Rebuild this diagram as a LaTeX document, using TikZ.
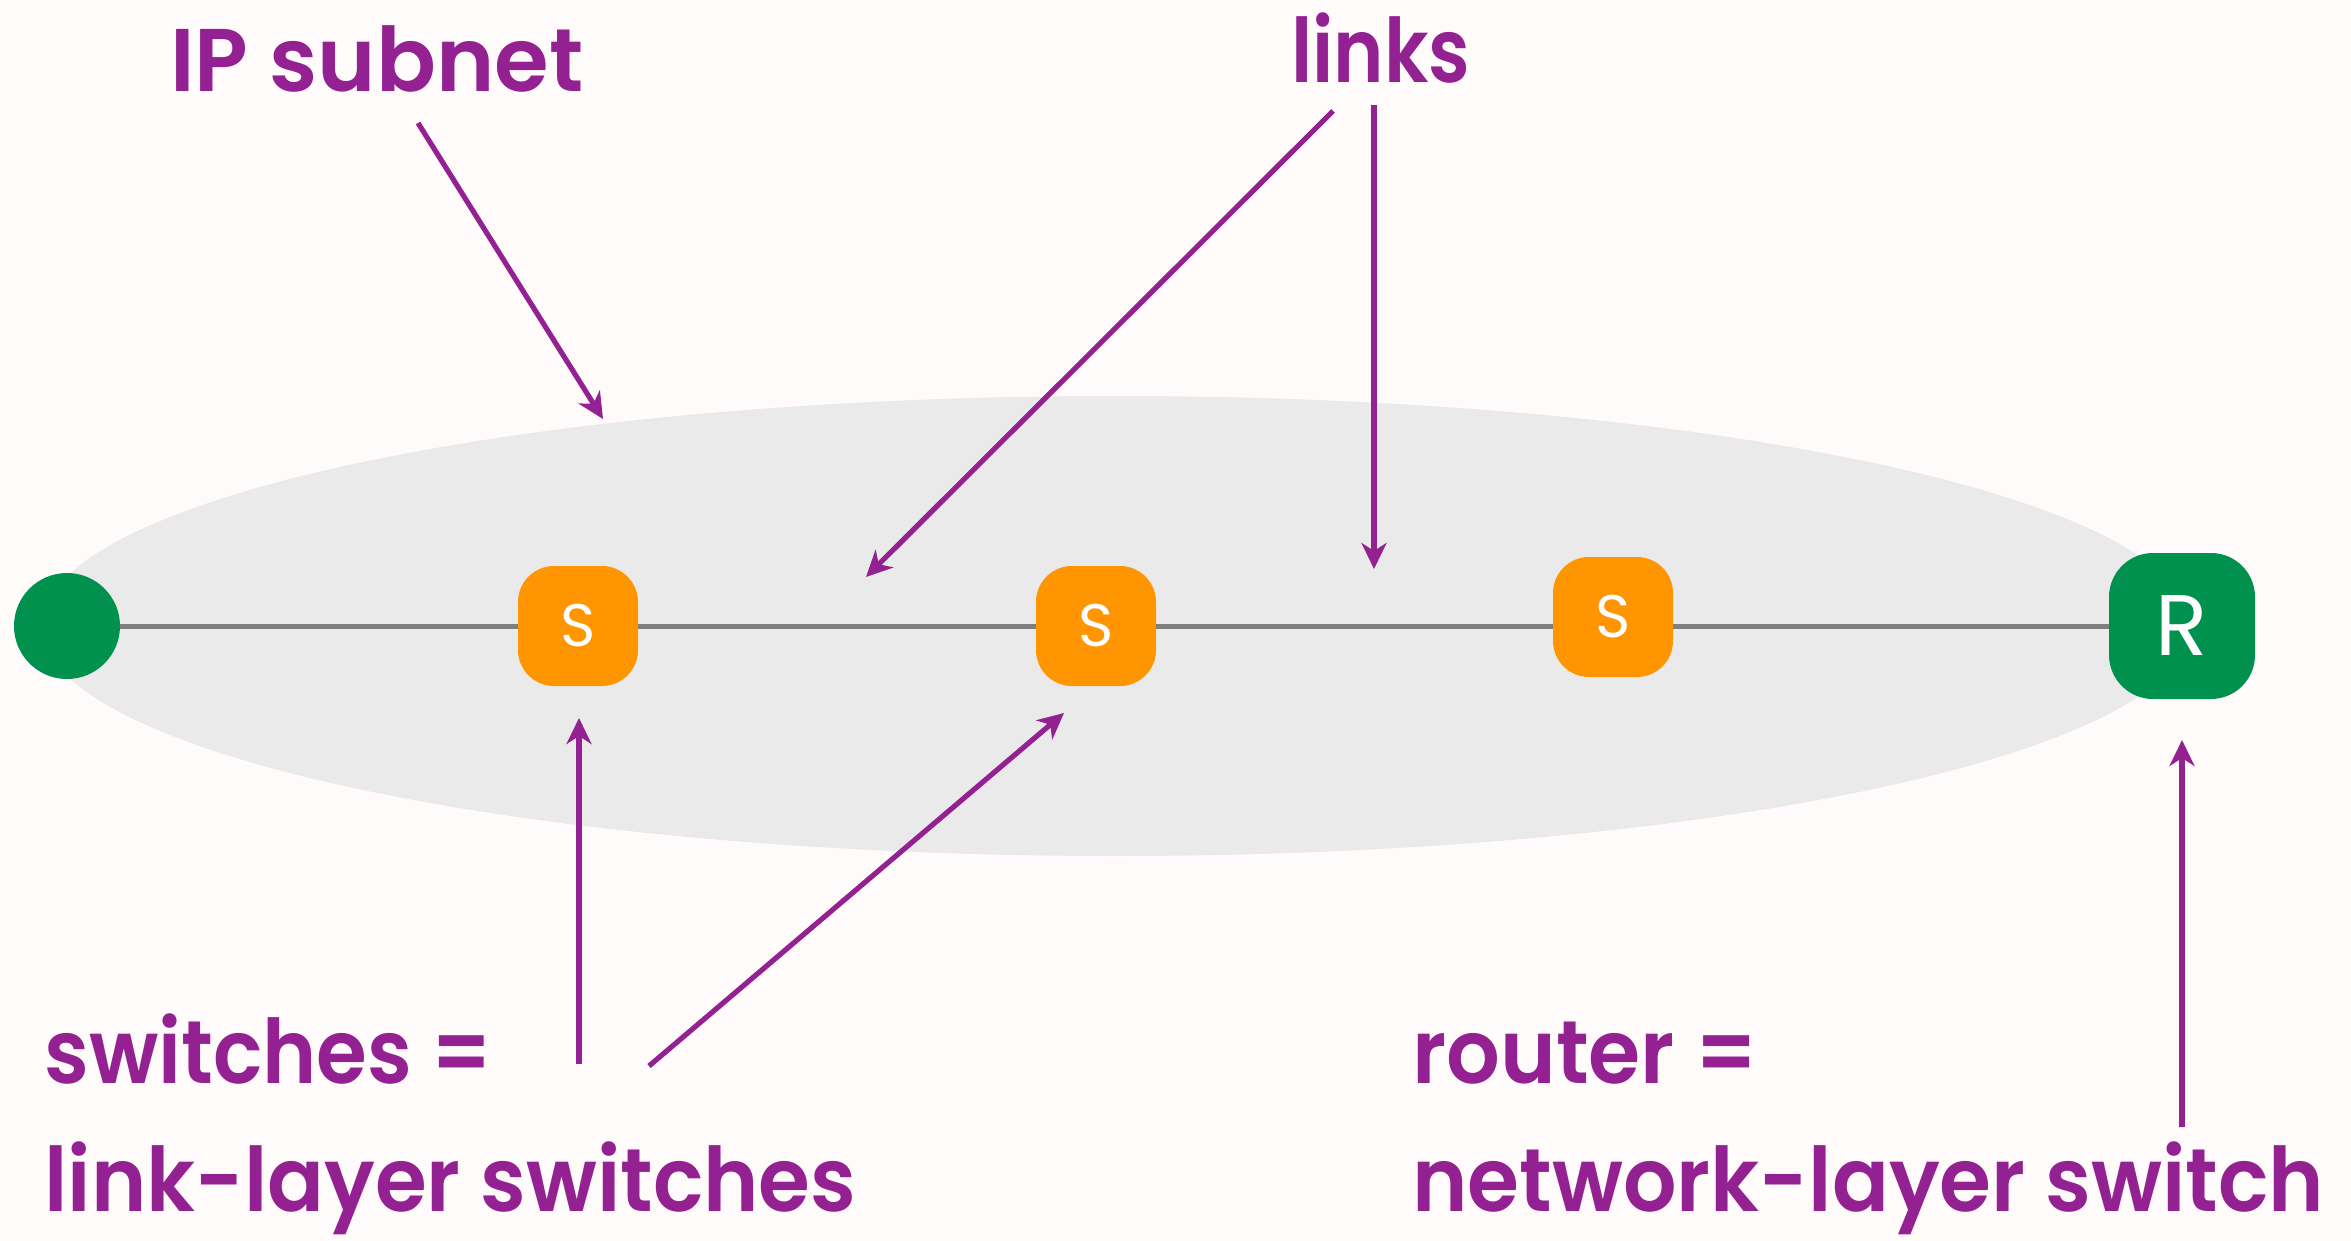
\documentclass[tikz,border=0pt]{standalone}
\usepackage{fontspec}
\usepackage{graphicx}
\setmainfont{Poppins}
\newfontfamily\lblfont{Poppins}[UprightFont={* SemiBold}]
\usetikzlibrary{arrows.meta}
\definecolor{bg}{HTML}{FFFBFA}
\definecolor{ellfill}{HTML}{EAEAEA}
\definecolor{rgreen}{HTML}{00914F}
\definecolor{swor}{HTML}{FF9500}
\definecolor{plum}{HTML}{942192}
\definecolor{wiregray}{HTML}{7F7F7F}
\newcommand\fitw[2]{\resizebox{#1}{\height}{#2}}
\tikzset{
  lbl/.style={anchor=base west, inner sep=0pt, text=plum, font=\lblfont\fontsize{44.5}{50}\selectfont},
  ann/.style={draw=plum, line width=2.6pt, -{Stealth[length=13pt,width=12.5pt,inset=4pt]}},
  swbox/.style={fill=swor, rounded corners=18pt, minimum size=60pt, inner sep=0pt, text=white, font=\fontsize{30}{30}\selectfont},
  rbox/.style={fill=rgreen, rounded corners=22pt, minimum size=73pt, inner sep=0pt, text=white, font=\fontsize{43}{43}\selectfont},
  hostdot/.style={circle, fill=rgreen, minimum size=53pt, inner sep=0pt},
  wire/.style={draw=wiregray, line width=2.5pt},
}
\begin{document}
\begin{tikzpicture}[x=0.5pt,y=-0.5pt]
\fill[bg] (0,0) rectangle (2351,1241);
\useasboundingbox (0,0) rectangle (2351,1241);
% subnet ellipse
\fill[ellfill] (1116,626) ellipse [x radius=537pt, y radius=115pt];
% nodes
\node[hostdot] (h) at (67,626) {};
\node[swbox] (s1) at (578,626) {S};
\node[swbox] (s2) at (1096,626) {S};
\node[swbox] (s3) at (1613,617) {S};
\node[rbox] (r) at (2182,626) {R};
% wires
\draw[wire] (h) -- (s1);
\draw[wire] (s1) -- (s2);
\draw[wire] (s2) -- (s2 -| s3.west);
\draw[wire] (r -| s3.east) -- (r);
% labels
\node[lbl] (tsub) at (170,92) {\fitw{206.5pt}{IP subnet}};
\node[lbl] (tlinks) at (1291,83) {\fitw{89.5pt}{links}};
\node[lbl] (tsw1) at (44,1083) {\fitw{224pt}{switches =}};
\node[lbl] (tsw2) at (44,1211) {\fitw{406pt}{link-layer switches}};
\node[lbl] (trt1) at (1412,1083) {\fitw{172.5pt}{router =}};
\node[lbl] (trt2) at (1412,1211) {\fitw{456pt}{network-layer switch}};
% arrow end points
\coordinate (a1s) at (418,123);  \coordinate (a1e) at (603,419);
\coordinate (a2s) at (1333,111); \coordinate (a2e) at (866,577);
\coordinate (a3s) at (1374,105); \coordinate (a3e) at (1374,569);
\coordinate (a4s) at (579,1064); \coordinate (a4e) at (579,718);
\coordinate (a5s) at (649,1066); \coordinate (a5e) at (1064,713);
\coordinate (a6s) at (2182,1127); \coordinate (a6e) at (2182,740);
\draw[ann] (a1s) -- (a1e);
\draw[ann] (a2s) -- (a2e);
\draw[ann] (a3s) -- (a3e);
\draw[ann] (a4s) -- (a4e);
\draw[ann] (a5s) -- (a5e);
\draw[ann] (a6s) -- (a6e);
\end{tikzpicture}
\end{document}
